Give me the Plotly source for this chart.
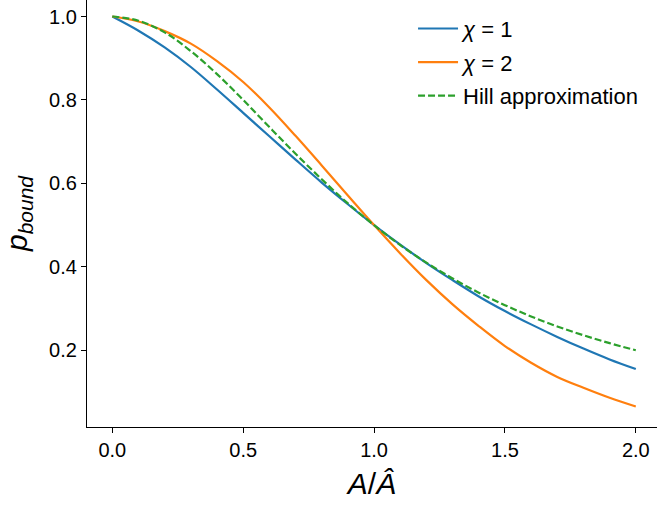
import plotly.graph_objects as go

x_vals = [0.0, 0.1, 0.2, 0.3, 0.4, 0.5, 0.6, 0.7, 0.8, 0.9, 1.0,
          1.1, 1.2, 1.3, 1.4, 1.5, 1.6, 1.7, 1.8, 1.9, 2.0]

chi1 = [1.0, 0.966, 0.926, 0.879, 0.825, 0.769, 0.713, 0.657, 0.602, 0.550, 0.5,
        0.453, 0.409, 0.368, 0.329, 0.294, 0.262, 0.232, 0.204, 0.178, 0.155]

chi2 = [1.0, 0.988, 0.965, 0.935, 0.893, 0.843, 0.782, 0.714, 0.643, 0.571, 0.5,
        0.432, 0.368, 0.310, 0.258, 0.210, 0.170, 0.136, 0.110, 0.086, 0.065]

hill = [1.0, 0.990, 0.962, 0.917, 0.862, 0.800, 0.735, 0.671, 0.610, 0.552, 0.5,
        0.452, 0.410, 0.372, 0.338, 0.308, 0.281, 0.257, 0.236, 0.217, 0.200]

x_ticks = [0.0, 0.5, 1.0, 1.5, 2.0]
x_tick_labels = ["0.0", "0.5", "1.0", "1.5", "2.0"]
y_ticks = [0.2, 0.4, 0.6, 0.8, 1.0]
y_tick_labels = ["0.2", "0.4", "0.6", "0.8", "1.0"]

FONT = "Liberation Sans, Arial, Helvetica, sans-serif"

fig = go.Figure()
fig.add_trace(go.Scatter(x=x_vals, y=chi1, mode="lines", name="<i>χ</i> = 1",
                         legendgroup="g1",
                         line=dict(color="#1f77b4", width=2.2, shape="spline")))
fig.add_trace(go.Scatter(x=x_vals, y=chi2, mode="lines", name="<i>χ</i> = 2",
                         legendgroup="g2",
                         line=dict(color="#ff7f0e", width=2.2, shape="spline")))
fig.add_trace(go.Scatter(x=x_vals, y=hill, mode="lines", name="Hill approximation",
                         legendgroup="g3",
                         line=dict(color="#2ca02c", width=2.2, dash="7px,3px", shape="spline")))

fig.update_layout(
    width=657, height=506,
    margin=dict(l=87, r=0, t=0, b=79),
    plot_bgcolor="white", paper_bgcolor="white",
    font=dict(family=FONT, size=20, color="black"),
    showlegend=True,
    legend=dict(x=0.572, y=0.982, xanchor="left", yanchor="top",
                bgcolor="rgba(255,255,255,0)", borderwidth=0,
                font=dict(family=FONT, size=22, color="black"),
                tracegroupgap=2, itemwidth=40),
    xaxis=dict(range=[-0.0967, 2.081], tickmode="array", tickvals=x_ticks,
               ticktext=x_tick_labels, showgrid=False, zeroline=False,
               showline=True, linecolor="black", linewidth=1.2,
               ticks="outside", ticklen=5, tickwidth=1.2, tickcolor="black",
               tickfont=dict(family=FONT, size=20, color="black"),
               title=dict(text="<i>A</i>/<i>Â</i>", standoff=12,
                          font=dict(family=FONT, size=30, color="black"))),
    yaxis=dict(range=[0.016, 1.0396], tickmode="array", tickvals=y_ticks,
               ticktext=y_tick_labels, showgrid=False, zeroline=False,
               showline=True, linecolor="black", linewidth=1.2,
               ticks="outside", ticklen=5, tickwidth=1.2, tickcolor="black",
               tickfont=dict(family=FONT, size=20, color="black"),
               title=dict(text="<i>p</i><sub><i>bound</i></sub>", standoff=14,
                          font=dict(family=FONT, size=30, color="black"))),
)

fig.write_html("out.html")
